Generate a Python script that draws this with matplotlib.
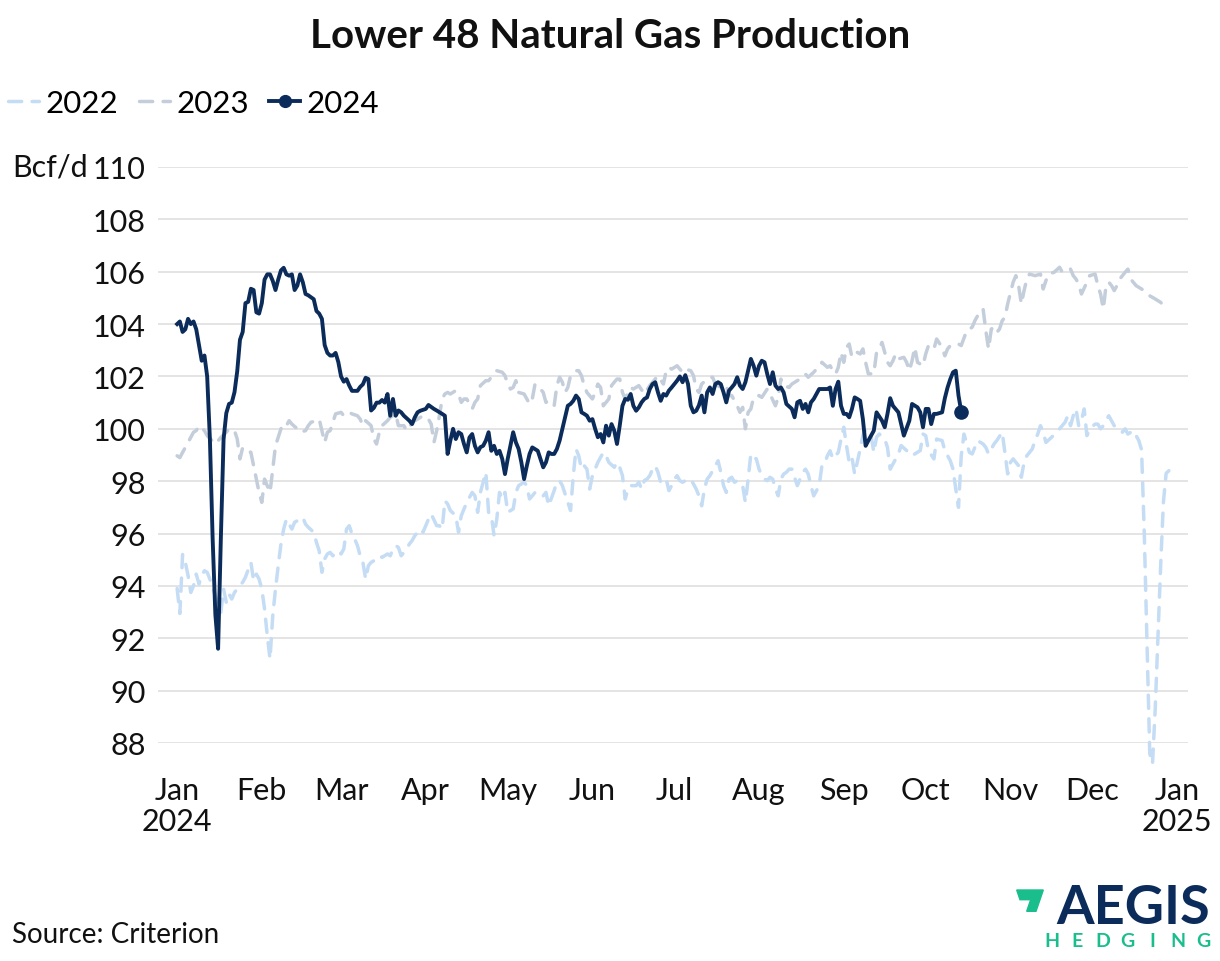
import numpy as np
import pandas as pd
import matplotlib
matplotlib.use("Agg")
import matplotlib.pyplot as plt
from matplotlib.lines import Line2D
from matplotlib.legend_handler import HandlerLine2D
from matplotlib.patches import Polygon

plt.rcParams['font.family'] = ['Lato', 'DejaVu Sans']

# (day of year offset, Bcf/d) -- all years drawn on the 2024 calendar
prod_2022 = [
    (0, 93.9), (1, 92.95), (2, 95.2), (3, 94.9), (4, 94.4), (5, 93.75), (6, 94.0), (7, 94.45),
    (8, 94.07), (9, 94.39), (10, 94.58), (11, 94.52), (12, 94.26), (16, 92.99), (17, 93.88),
    (18, 93.37), (19, 93.69), (20, 93.5), (21, 93.75), (23, 94.01), (24, 94.14), (25, 94.33),
    (27, 94.9), (28, 94.2), (29, 94.45), (30, 94.26), (31, 93.88), (32, 93.12), (33, 92.1),
    (34, 91.21), (35, 92.86), (36, 93.88), (37, 94.77), (38, 95.6), (39, 96.17), (40, 96.55),
    (41, 96.36), (42, 96.17), (43, 96.43), (44, 96.49), (46, 96.62), (47, 96.36), (48, 96.24),
    (50, 96.05), (51, 95.66), (52, 95.34), (53, 94.52), (54, 95.03), (55, 95.22), (56, 95.28),
    (57, 95.15), (59, 95.34), (60, 95.22), (61, 95.41), (62, 96.17), (63, 96.3), (64, 95.98),
    (65, 95.79), (66, 95.54), (67, 95.15), (68, 94.9), (69, 94.26), (70, 94.77), (71, 94.9),
    (72, 94.96), (74, 95.15), (75, 95.09), (77, 95.22), (78, 95.15), (79, 95.41), (80, 95.54),
    (81, 95.47), (82, 95.15), (84, 95.41), (85, 95.6), (86, 95.73), (87, 95.92), (89, 96.17),
    (90, 96.05), (91, 96.3), (92, 96.55), (93, 96.75), (95, 96.3), (96, 96.3), (97, 96.17),
    (98, 97.25), (99, 97.13), (100, 96.88), (102, 96.68), (103, 96.05), (104, 96.68),
    (105, 96.94), (106, 97.19), (108, 97.57), (109, 97.44), (110, 96.81), (111, 97.57),
    (113, 98.34), (114, 96.81), (115, 96.7), (116, 95.92), (117, 96.55), (118, 97.57),
    (119, 97.32), (120, 97.57), (121, 96.81), (123, 96.94), (124, 97.57), (125, 97.83),
    (127, 97.96), (128, 97.83), (129, 97.32), (130, 97.44), (131, 97.57), (133, 97.57),
    (134, 97.44), (135, 97.57), (136, 97.06), (138, 97.64), (139, 97.96), (140, 98.02),
    (141, 97.83), (142, 97.51), (144, 96.88), (145, 98.21), (146, 99.23), (147, 98.97),
    (148, 98.46), (149, 98.59), (150, 98.46), (151, 97.7), (152, 98.21), (153, 98.46),
    (154, 98.72), (156, 99.1), (157, 98.97), (158, 98.72), (160, 98.53), (161, 98.72),
    (162, 98.53), (163, 98.21), (164, 97.32), (165, 97.7), (166, 97.83), (168, 97.83),
    (169, 97.96), (170, 97.7), (171, 98.02), (172, 98.08), (173, 98.21), (174, 98.46),
    (175, 98.59), (176, 98.34), (177, 97.96), (178, 98.02), (179, 98.08), (180, 97.64),
    (181, 97.83), (182, 98.08), (183, 98.21), (184, 98.02), (185, 97.96), (186, 98.02),
    (188, 98.08), (189, 97.89), (190, 97.7), (191, 97.44), (192, 97.06), (193, 97.7),
    (194, 98.08), (195, 98.21), (197, 98.59), (198, 98.78), (199, 98.34), (200, 97.83),
    (201, 97.57), (202, 98.08), (203, 98.15), (204, 97.96), (205, 98.02), (207, 97.83),
    (208, 97.19), (209, 98.08), (210, 99.04), (211, 98.91), (212, 98.85), (213, 98.46),
    (214, 98.21), (215, 98.08), (216, 98.02), (217, 98.15), (218, 98.08), (219, 97.7),
    (220, 97.44), (221, 98.08), (222, 98.27), (223, 98.34), (224, 98.46), (225, 98.46),
    (227, 97.83), (228, 98.08), (229, 98.34), (230, 98.46), (231, 98.27), (232, 97.83),
    (233, 97.44), (235, 97.83), (236, 98.59), (237, 98.66), (238, 98.97), (239, 99.16),
    (240, 98.85), (242, 99.1), (243, 99.61), (244, 100.06), (245, 99.36), (246, 98.72),
    (247, 98.91), (248, 98.27), (250, 99.23), (251, 99.74), (252, 100.0), (254, 99.74),
    (255, 99.1), (256, 99.68), (257, 99.8), (259, 99.61), (260, 99.29), (261, 98.46),
    (263, 98.85), (264, 99.04), (265, 99.36), (267, 99.17), (269, 98.97), (270, 99.04),
    (272, 99.17), (273, 99.8), (274, 99.74), (275, 99.17), (277, 98.85), (278, 99.61),
    (280, 99.55), (281, 99.17), (283, 98.78), (284, 98.46), (285, 97.7), (286, 97.0),
    (287, 98.97), (288, 99.8), (290, 99.1), (291, 99.04), (293, 99.55), (295, 99.42),
    (296, 99.29), (297, 99.04), (299, 99.42), (300, 99.55), (302, 99.87), (304, 98.28),
    (305, 98.72), (306, 98.85), (308, 98.59), (309, 98.15), (310, 98.72), (311, 98.97),
    (313, 99.23), (314, 99.55), (315, 99.8), (316, 100.12), (317, 99.87), (318, 99.48),
    (320, 99.67), (322, 99.87), (323, 100.0), (325, 100.25), (326, 100.5), (327, 100.12),
    (328, 100.5), (329, 100.76), (330, 100.12), (331, 100.31), (332, 100.76), (333, 99.74),
    (334, 100.0), (336, 100.18), (337, 100.18), (338, 100.0), (339, 100.12), (341, 100.5),
    (342, 100.31), (343, 100.12), (345, 100.0), (346, 99.87), (347, 100.0), (348, 99.8),
    (350, 99.93), (351, 99.74), (352, 99.55), (353, 99.2), (354, 96.0), (355, 91.8),
    (356, 87.6), (357, 87.2), (358, 89.3), (359, 92.0), (360, 94.8), (361, 97.2),
    (362, 98.3), (363, 98.4),
]

prod_2023 = [
    (0, 98.97), (1, 98.9), (2, 99.1), (4, 99.48), (6, 99.87), (7, 99.93), (8, 100.12),
    (10, 99.93), (11, 99.74), (14, 99.42), (16, 99.67), (18, 99.87), (19, 100.0), (21, 99.93),
    (22, 99.61), (23, 98.85), (24, 99.29), (25, 99.23), (27, 99.1), (28, 98.59), (29, 98.08),
    (30, 97.57), (31, 97.19), (32, 98.08), (33, 97.83), (34, 97.57), (35, 98.46), (36, 99.35),
    (38, 100.0), (39, 100.18), (40, 100.12), (41, 100.31), (42, 100.18), (44, 100.0),
    (45, 99.87), (47, 99.93), (48, 100.12), (49, 100.25), (51, 100.31), (52, 100.37),
    (54, 99.48), (55, 99.87), (56, 99.93), (57, 100.25), (58, 100.57), (60, 100.63),
    (61, 100.5), (63, 100.63), (64, 100.57), (66, 100.5), (67, 100.37), (68, 100.12),
    (69, 100.31), (71, 100.12), (72, 99.61), (73, 99.42), (74, 99.87), (75, 100.12),
    (77, 100.31), (78, 100.44), (80, 100.57), (81, 100.12), (83, 100.12), (84, 99.93),
    (85, 100.06), (86, 100.25), (88, 100.37), (90, 100.5), (92, 100.37), (93, 100.18),
    (94, 99.48), (95, 99.93), (96, 100.5), (97, 101.14), (98, 101.33), (99, 101.39),
    (100, 101.33), (102, 101.46), (103, 101.33), (104, 101.01), (105, 101.14), (106, 101.14),
    (108, 100.76), (109, 101.01), (110, 101.14), (111, 101.65), (113, 101.84), (114, 101.84),
    (115, 101.97), (116, 102.09), (117, 102.22), (119, 102.16), (120, 102.03), (121, 101.71),
    (122, 101.52), (123, 101.58), (124, 101.84), (125, 101.39), (127, 101.33), (128, 101.14),
    (129, 100.95), (130, 101.14), (131, 101.71), (133, 101.52), (134, 101.39), (135, 101.01),
    (136, 101.07), (138, 100.88), (139, 101.65), (140, 101.97), (141, 101.78), (142, 101.39),
    (143, 101.58), (144, 102.03), (146, 102.22), (147, 102.22), (148, 102.03), (149, 101.65),
    (150, 101.39), (152, 101.14), (153, 101.39), (154, 101.71), (155, 101.58), (156, 100.88),
    (158, 101.14), (159, 101.65), (160, 101.78), (161, 101.9), (162, 101.9), (163, 101.39),
    (164, 101.14), (166, 101.58), (167, 101.52), (169, 101.65), (171, 101.33), (173, 101.65),
    (175, 101.9), (176, 102.03), (178, 101.71), (179, 102.22), (180, 102.35), (181, 102.28),
    (183, 102.41), (184, 102.28), (185, 102.16), (186, 102.28), (188, 102.22), (189, 102.03),
    (190, 101.52), (191, 101.39), (192, 101.71), (194, 101.9), (195, 101.97), (196, 101.97),
    (197, 101.71), (199, 101.58), (200, 101.58), (201, 101.65), (202, 101.27), (203, 101.27),
    (205, 100.88), (206, 100.63), (207, 100.82), (208, 100.0), (209, 100.63), (210, 100.76),
    (211, 101.2), (213, 101.27), (214, 101.2), (216, 101.52), (217, 101.33), (219, 100.88),
    (220, 101.2), (221, 101.9), (222, 101.65), (224, 101.58), (225, 101.71), (227, 101.84),
    (228, 101.9), (229, 102.03), (230, 102.09), (231, 101.97), (233, 102.16), (234, 102.28),
    (235, 102.35), (236, 102.54), (238, 102.35), (239, 102.41), (240, 102.22), (241, 102.09),
    (242, 102.35), (243, 102.92), (244, 102.54), (245, 103.11), (246, 103.24), (247, 102.73),
    (249, 102.92), (250, 102.86), (251, 103.05), (252, 102.54), (253, 102.1), (255, 102.1),
    (256, 102.92), (257, 103.05), (258, 103.3), (259, 102.92), (260, 102.54), (261, 102.41),
    (262, 102.6), (263, 102.86), (264, 102.67), (266, 102.73), (267, 102.54), (268, 102.22),
    (269, 102.6), (270, 103.11), (271, 102.54), (273, 102.41), (274, 102.86), (275, 103.18),
    (277, 103.05), (278, 103.43), (280, 103.11), (281, 102.79), (282, 103.05), (283, 103.18),
    (284, 103.18), (286, 103.24), (287, 103.18), (289, 103.75), (291, 103.88), (292, 104.13),
    (294, 104.51), (295, 104.58), (296, 103.75), (297, 103.05), (298, 103.81), (299, 103.88),
    (300, 103.68), (301, 103.81), (302, 104.13), (303, 104.26), (304, 104.77), (306, 105.6),
    (307, 105.85), (308, 105.47), (309, 104.77), (310, 105.28), (311, 105.72), (312, 105.91),
    (314, 105.85), (316, 105.91), (317, 105.34), (318, 105.66), (319, 105.91), (321, 105.98),
    (323, 106.17), (324, 105.98), (325, 106.04), (327, 106.1), (328, 105.85), (329, 105.72),
    (330, 105.53), (331, 105.15), (333, 105.6), (334, 105.85), (336, 105.91), (337, 105.47),
    (338, 105.15), (339, 104.58), (340, 105.47), (341, 105.6), (342, 105.47), (343, 105.28),
    (344, 105.47), (345, 105.72), (347, 105.98), (348, 106.1), (349, 105.72), (351, 105.47),
    (353, 105.34), (355, 105.21), (356, 105.08), (358, 104.96), (360, 104.83), (361, 104.7),
    (362, 104.83),
]

prod_2024 = [
    (0, 104.0), (1, 104.1), (2, 103.7), (3, 103.8), (4, 104.2), (5, 104.0), (6, 104.1),
    (7, 103.8), (8, 103.2), (9, 102.6), (10, 102.8), (11, 102.0), (12, 99.6), (13, 95.8),
    (14, 92.9), (15, 91.6), (16, 95.8), (17, 99.6), (18, 100.6), (19, 100.95), (20, 101.0),
    (21, 101.4), (22, 102.2), (23, 103.4), (24, 103.7), (25, 104.8), (26, 104.85),
    (27, 105.35), (28, 105.3), (29, 104.45), (30, 104.4), (31, 104.8), (32, 105.7),
    (33, 105.9), (34, 105.9), (35, 105.65), (36, 105.3), (37, 105.7), (38, 106.05),
    (39, 106.15), (40, 105.9), (41, 105.85), (42, 105.9), (43, 105.3), (44, 105.47),
    (45, 105.9), (46, 105.6), (47, 105.15), (48, 105.1), (50, 104.95), (51, 104.5),
    (52, 104.4), (53, 104.2), (54, 103.2), (55, 102.9), (56, 102.8), (57, 102.8), (58, 102.9),
    (59, 102.55), (60, 102.0), (61, 101.8), (62, 101.9), (63, 101.65), (64, 101.45),
    (66, 101.45), (67, 101.6), (68, 101.7), (69, 101.95), (70, 101.9), (71, 100.7),
    (72, 100.8), (73, 101.0), (74, 101.0), (75, 101.1), (76, 101.0), (77, 101.33), (78, 100.5),
    (79, 101.14), (80, 100.5), (81, 100.7), (82, 100.63), (83, 100.5), (85, 100.31),
    (86, 100.18), (87, 100.44), (88, 100.63), (89, 100.69), (91, 100.76), (92, 100.91),
    (94, 100.76), (95, 100.7), (97, 100.57), (98, 100.5), (99, 99.04), (100, 99.55),
    (101, 100.0), (102, 99.61), (103, 99.87), (104, 99.8), (105, 99.42), (106, 99.1),
    (107, 99.67), (108, 99.8), (109, 99.35), (110, 99.1), (111, 99.3), (112, 99.35),
    (113, 99.55), (114, 99.87), (115, 99.16), (116, 99.35), (117, 99.04), (118, 99.16),
    (119, 98.85), (120, 98.27), (121, 98.85), (122, 99.35), (123, 99.87), (124, 99.48),
    (125, 99.23), (126, 98.72), (127, 98.08), (128, 98.59), (129, 99.04), (130, 99.29),
    (132, 99.16), (133, 98.85), (134, 98.53), (135, 98.72), (136, 99.1), (137, 99.04),
    (138, 99.04), (139, 99.23), (140, 99.55), (141, 100.0), (142, 100.44), (143, 100.88),
    (144, 100.95), (145, 101.07), (146, 101.27), (147, 101.14), (148, 100.63), (149, 100.57),
    (150, 100.5), (151, 100.31), (152, 100.37), (153, 100.0), (154, 99.68), (155, 99.8),
    (156, 99.48), (157, 100.12), (158, 99.74), (159, 100.18), (160, 99.93), (161, 99.42),
    (162, 100.12), (163, 100.88), (164, 101.14), (165, 101.11), (166, 101.33), (167, 100.88),
    (168, 100.69), (169, 100.82), (170, 101.01), (171, 101.14), (172, 101.2), (173, 101.52),
    (174, 101.71), (175, 101.78), (176, 101.39), (177, 101.07), (178, 101.33), (179, 101.27),
    (180, 101.46), (181, 101.58), (182, 101.71), (183, 101.84), (184, 102.0), (185, 101.78),
    (186, 102.05), (187, 101.71), (188, 100.88), (189, 100.63), (190, 100.69), (191, 100.9),
    (192, 101.27), (193, 100.63), (194, 101.39), (195, 101.58), (196, 101.33), (197, 101.71),
    (198, 101.78), (199, 101.71), (200, 101.39), (201, 101.01), (202, 101.46), (203, 101.58),
    (204, 101.71), (205, 101.97), (206, 101.65), (207, 101.52), (208, 101.78), (209, 102.22),
    (210, 102.67), (211, 102.41), (212, 102.03), (213, 102.41), (214, 102.6), (215, 102.54),
    (216, 102.09), (217, 101.71), (218, 102.16), (219, 101.65), (220, 101.52), (221, 101.58),
    (222, 101.39), (223, 100.95), (225, 100.76), (226, 100.44), (227, 101.01), (228, 101.07),
    (229, 100.76), (230, 100.95), (231, 100.63), (232, 101.01), (233, 101.14), (235, 101.52),
    (236, 101.52), (238, 101.52), (239, 101.58), (240, 100.88), (241, 101.52), (242, 101.8),
    (243, 100.88), (244, 100.57), (245, 100.57), (246, 100.44), (247, 100.76), (248, 101.2),
    (249, 101.14), (250, 101.07), (251, 100.37), (252, 99.35), (253, 99.55), (255, 99.93),
    (256, 100.63), (258, 100.31), (259, 100.06), (260, 100.57), (261, 101.17), (262, 100.88),
    (264, 100.63), (265, 100.18), (266, 99.74), (268, 100.31), (269, 100.95), (271, 100.82),
    (272, 100.63), (273, 100.06), (274, 100.76), (275, 100.76), (276, 100.18), (277, 100.57),
    (278, 100.57), (280, 100.63), (281, 101.17), (282, 101.58), (283, 101.9), (284, 102.16),
    (285, 102.22), (286, 101.27), (287, 100.66),
]

years = ['2022', '2023', '2024']
y_ticks = list(range(88, 111, 2))
month_labels = ['Jan\n2024', 'Feb', 'Mar', 'Apr', 'May', 'Jun', 'Jul', 'Aug', 'Sep',
                'Oct', 'Nov', 'Dec', 'Jan\n2025']

C22 = '#C5DCF5'
C23 = '#C4CEDB'
C24 = '#0B2C5A'
GREEN = '#19BE8C'
TXT = '#111111'

START = pd.Timestamp('2024-01-01')
DASH = (0, (3.8, 3.0))


def to_series(pairs):
    days, vals = zip(*pairs)
    return START + pd.to_timedelta(list(days), unit='D'), np.array(vals)


class EndDot(HandlerLine2D):
    ''' legend handle with the marker at the right end of the line '''
    def get_xdata(self, legend, xdescent, ydescent, width, height, fontsize):
        xdata, _ = super().get_xdata(legend, xdescent, ydescent, width, height, fontsize)
        return xdata, [xdata[-1]]


fig = plt.figure(figsize=(12.2, 9.62), dpi=100)
ax = fig.add_axes([158 / 1220, 1 - 744 / 962, 1030 / 1220, 576 / 962])

x22, v22 = to_series(prod_2022)
x23, v23 = to_series(prod_2023)
x24, v24 = to_series(prod_2024)

ax.plot(x22, v22, color=C22, lw=2.5, ls=DASH, dash_capstyle='round', clip_on=False, zorder=2)
ax.plot(x23, v23, color=C23, lw=2.5, ls=DASH, dash_capstyle='round', clip_on=False, zorder=3)
ax.plot(x24, v24, color=C24, lw=2.8, solid_joinstyle='round', clip_on=False, zorder=4)
ax.plot(x24[-1:], v24[-1:], 'o', color=C24, ms=9.5, clip_on=False, zorder=5)

ax.set_ylim(88, 110)
ax.set_yticks(y_ticks)
ax.set_yticklabels([str(t) for t in y_ticks])
ax.set_xlim(START - pd.Timedelta(days=7), START + pd.Timedelta(days=370))
ax.set_xticks(pd.date_range('2024-01-01', '2025-01-01', freq='MS'))
ax.set_xticklabels(month_labels, linespacing=1.1)
ax.grid(axis='y', color='#DCDCDC', lw=1.1)
ax.set_axisbelow(True)
for s in ax.spines.values():
    s.set_visible(False)
ax.tick_params(length=0, labelsize=22, colors=TXT)
ax.tick_params(axis='y', pad=9)
ax.tick_params(axis='x', pad=24)

fig.text(0.5, 1 - 36 / 962, 'Lower 48 Natural Gas Production', fontsize=29,
         fontweight='bold', ha='center', va='center', color=TXT)
fig.text(12 / 1220, 1 - 168 / 962, 'Bcf/d', fontsize=22, ha='left', va='center', color=TXT)
fig.text(12 / 1220, 1 - 935 / 962, 'Source: Criterion', fontsize=20, ha='left', va='center',
         color=TXT)

handles = [
    Line2D([], [], color=C22, lw=2.5, ls=DASH, dash_capstyle='round'),
    Line2D([], [], color=C23, lw=2.5, ls=DASH, dash_capstyle='round'),
    Line2D([], [], color=C24, lw=2.8, marker='o', ms=8.5),
]
fig.legend(handles, years, loc='center left', bbox_to_anchor=(8 / 1220, 1 - 104 / 962),
           ncol=3, frameon=False, fontsize=22.5, handlelength=1.0, handletextpad=0.2,
           columnspacing=0.65, borderaxespad=0, borderpad=0,
           handler_map={handles[2]: EndDot(numpoints=1)})

# logo
flag = [(1016.7, 891), (1043.3, 891), (1036, 912.3), (1026.7, 912.3), (1030.7, 900.7), (1020, 900.7)]
fig.add_artist(Polygon([(x / 1220, 1 - y / 962) for x, y in flag], closed=True,
                       color=GREEN, transform=fig.transFigure))
fig.text(1210 / 1220, 1 - 909 / 962, 'AEGIS', fontsize=39, fontweight='bold', color=C24,
         ha='right', va='center')
for ch, xp in zip('HEDGING', np.linspace(1052, 1203, 7)):
    fig.text(xp / 1220, 1 - 942 / 962, ch, fontsize=14, fontweight='bold', color=GREEN,
             ha='center', va='center')

fig.savefig('out.png', dpi=100)
